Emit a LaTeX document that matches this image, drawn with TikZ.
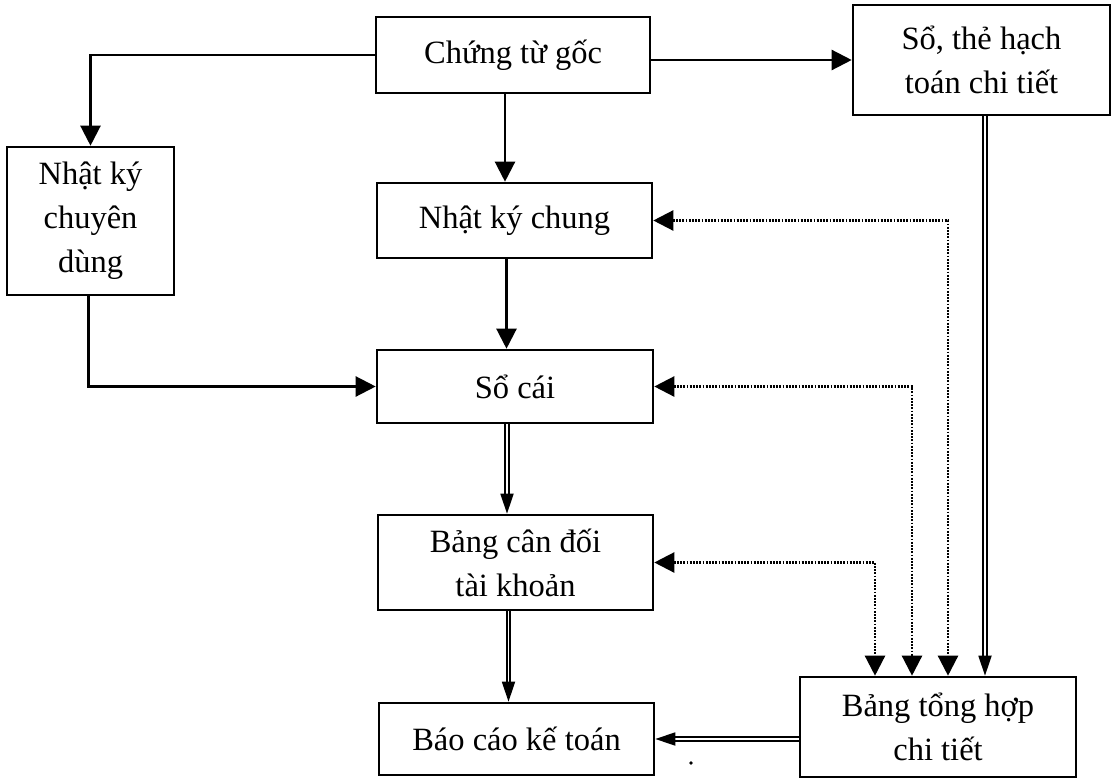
\documentclass[tikz,border=0pt]{standalone}
\usepackage{fontspec}
\setmainfont{Liberation Serif}
\usetikzlibrary{arrows.meta,calc}
\tikzset{
  box/.style={draw, line width=2.6pt, inner sep=0pt, align=center,
    font=\fontsize{32.5}{44}\selectfont},
  arr/.style={line width=2.3pt, -{Triangle[length=20pt,width=20pt]}},
  dotarr/.style={line width=2.4pt, dash pattern=on 1.8pt off 1.4pt,
    {Triangle[length=20pt,width=20pt]}-{Triangle[length=20pt,width=20pt]}},
  dbl/.style={double, double distance=1.8pt, line width=1.8pt,
    -{Triangle[length=20pt,width=13pt]}}
}
\begin{document}
\begin{tikzpicture}[x=1pt,y=-1pt]
\useasboundingbox (0,0) rectangle (1116,779);
\node[box, minimum width=274pt, minimum height=76pt] (goc) at (513,55) {Chứng từ gốc};
\node[box, minimum width=257pt, minimum height=110pt] (sothe) at (981.5,60) {Sổ, thẻ hạch\\toán chi tiết};
\node[box, minimum width=167pt, minimum height=148pt] (nkcd) at (90.5,221) {Nhật ký\\chuyên\\dùng};
\node[box, minimum width=275pt, minimum height=75pt] (nkc) at (514.5,220.5) {Nhật ký chung};
\node[box, minimum width=276pt, minimum height=73pt] (socai) at (515,386.5) {Sổ cái};
\node[box, minimum width=275pt, minimum height=95pt] (bcd) at (515.5,562.5) {Bảng cân đối\\tài khoản};
\node[box, minimum width=275pt, minimum height=72pt] (bctc) at (516.5,739) {Báo cáo kế toán};
\node[box, minimum width=276pt, minimum height=100pt] (bth) at (938,727) {Bảng tổng hợp\\chi tiết};

% central column of arrows
\coordinate (c1) at ($(goc.south)+(-8,0)$);
\coordinate (c2) at ($(nkc.south)+(-8,0)$);
\coordinate (c3) at ($(socai.south)+(-8,0)$);
\coordinate (c4) at ($(bcd.south)+(-7,0)$);
\draw[arr] (c1) -- (c1 |- nkc.north);
\draw[arr] (c2) -- (c2 |- socai.north);
\draw[dbl] (c3) -- (c3 |- bcd.north);
\draw[dbl] (c4) -- (c4 |- bctc.north);

% left branch
\draw[arr] (goc.west) -| (nkcd.north);
\draw[arr] ($(nkcd.south)+(-2,0)$) |- (socai.west);

% right branch
\draw[arr] (goc.east |- sothe.west) -- (sothe.west);
\coordinate (i4) at ($(bth.north)+(47,0)$);
\draw[dbl] (i4 |- sothe.south) -- (i4);
\draw[dbl] (bth.west |- bctc.east) -- (bctc.east);

% dotted links
\coordinate (i1) at ($(bth.north)+(-63,0)$);
\coordinate (i2) at ($(bth.north)+(-26,0)$);
\coordinate (i3) at ($(bth.north)+(10,0)$);
\draw[dotarr] (nkc.east) -| (i3);
\draw[dotarr] (socai.east) -| (i2);
\draw[dotarr] (bcd.east) -| (i1);

\fill (691,763) circle (1.8pt);
\end{tikzpicture}
\end{document}
